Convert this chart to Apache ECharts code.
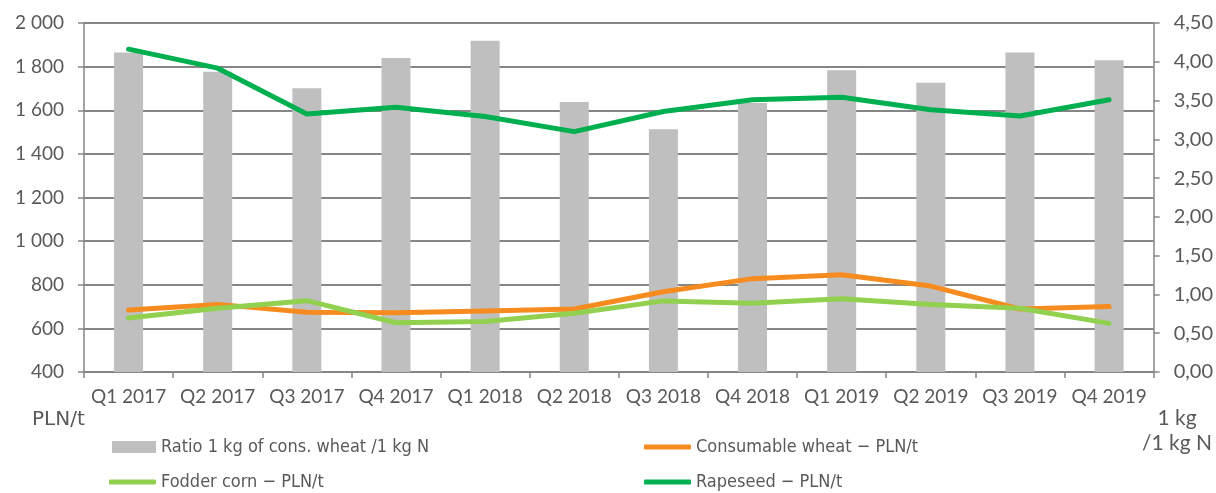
<!DOCTYPE html>
<html>
<head>
<meta charset="utf-8">
<script src="https://cdn.jsdelivr.net/npm/echarts@6/dist/echarts.min.js"></script>
<style>
  html, body { margin: 0; padding: 0; background: #fff; }
  #chart { width: 1216px; height: 493px; }
</style>
</head>
<body>
<div id="chart"></div>
<script>
const quarters = ['Q1 2017', 'Q2 2017', 'Q3 2017', 'Q4 2017', 'Q1 2018', 'Q2 2018',
  'Q3 2018', 'Q4 2018', 'Q1 2019', 'Q2 2019', 'Q3 2019', 'Q4 2019'];

// ratio 1 kg wheat / 1 kg N (right axis)
const ratio = [4.12, 3.87, 3.66, 4.05, 4.27, 3.48, 3.13, 3.47, 3.89, 3.73, 4.12, 4.02];
// prices PLN/t (left axis)
const wheat = [684, 710, 674, 672, 680, 689, 768, 828, 846, 794, 689, 700];
const corn = [648, 692, 727, 626, 631, 669, 726, 715, 736, 710, 692, 623];
const rapeseed = [1880, 1793, 1583, 1614, 1571, 1502, 1594, 1648, 1660, 1602, 1574, 1648];

const names = ['Ratio 1 kg of cons. wheat /1 kg N', 'Consumable wheat \u2212 PLN/t',
  'Fodder corn \u2212 PLN/t', 'Rapeseed \u2212 PLN/t'];

const axisFont = 'Lato, "Open Sans", sans-serif';
const legendFont = '"DejaVu Sans Condensed", "DejaVu Sans", sans-serif';
const grey = '#868686';

const chart = echarts.init(document.getElementById('chart'));

function lineSeries(name, data, color) {
  return {
    name: name,
    type: 'line',
    data: data,
    symbol: 'none',
    lineStyle: { color: color, width: 5, cap: 'round', join: 'round' },
    itemStyle: { color: color }
  };
}

// one legend per item so the 2x2 layout is fixed
function legendItem(name, left, top, isBar) {
  return {
    data: [{ name: name, icon: isBar ? 'rect' : 'roundRect' }],
    left: left,
    top: top,
    padding: 0,
    itemWidth: isBar ? 44 : 47,
    itemHeight: isBar ? 12 : 5,
    itemGap: 5,
    itemStyle: { borderWidth: 0 },
    textStyle: { fontFamily: legendFont, fontSize: 18, color: '#595959', lineHeight: 20 }
  };
}

chart.setOption({
  animation: false,
  grid: { left: 84, right: 58, top: 23, bottom: 121 },
  legend: [
    legendItem(names[0], 112, 437, true),
    legendItem(names[2], 109, 472, false),
    legendItem(names[1], 644, 437, false),
    legendItem(names[3], 644, 472, false)
  ],
  xAxis: {
    type: 'category',
    data: quarters,
    axisLine: { lineStyle: { color: grey, width: 1.5 } },
    axisTick: { show: true, length: 6, lineStyle: { color: grey, width: 1.5 } },
    axisLabel: { fontFamily: axisFont, fontSize: 19, color: '#595959', margin: 15, interval: 0 }
  },
  yAxis: [
    {
      type: 'value',
      min: 400,
      max: 2000,
      interval: 200,
      axisLine: { show: true, lineStyle: { color: grey, width: 1.5 } },
      axisTick: { show: true, length: 6, lineStyle: { color: grey, width: 1.5 } },
      splitLine: { lineStyle: { color: grey, width: 2 } },
      axisLabel: {
        fontFamily: axisFont, fontSize: 19, color: '#595959', margin: 20,
        formatter: v => v >= 1000 ? Math.floor(v / 1000) + ' ' + String(v % 1000).padStart(3, '0') : String(v)
      }
    },
    {
      type: 'value',
      min: 0,
      max: 4.5,
      interval: 0.5,
      position: 'right',
      axisLine: { show: true, lineStyle: { color: grey, width: 1.5 } },
      axisTick: { show: true, length: 6, lineStyle: { color: grey, width: 1.5 } },
      splitLine: { show: false },
      axisLabel: {
        fontFamily: axisFont, fontSize: 20, color: '#595959', margin: 20,
        formatter: v => v.toFixed(2).replace('.', ',')
      }
    }
  ],
  series: [
    {
      name: names[0],
      type: 'bar',
      yAxisIndex: 1,
      data: ratio,
      barWidth: 29,
      itemStyle: { color: '#bfbfbf' }
    },
    lineSeries(names[1], wheat, '#f68b1f'),
    lineSeries(names[2], corn, '#92d050'),
    lineSeries(names[3], rapeseed, '#00b050')
  ],
  graphic: [
    {
      type: 'text', left: 32, top: 410,
      style: { text: 'PLN/t', font: '20px "DejaVu Sans", sans-serif', fill: '#595959' }
    },
    {
      type: 'text', x: 1177, y: 418,
      style: { text: '1 kg', font: '21px ' + axisFont, fill: '#595959', align: 'center', verticalAlign: 'middle' }
    },
    {
      type: 'text', x: 1177, y: 443,
      style: { text: '/1 kg N', font: '21px ' + axisFont, fill: '#595959', align: 'center', verticalAlign: 'middle' }
    }
  ]
});

window.addEventListener('resize', () => chart.resize());
</script>
</body>
</html>
